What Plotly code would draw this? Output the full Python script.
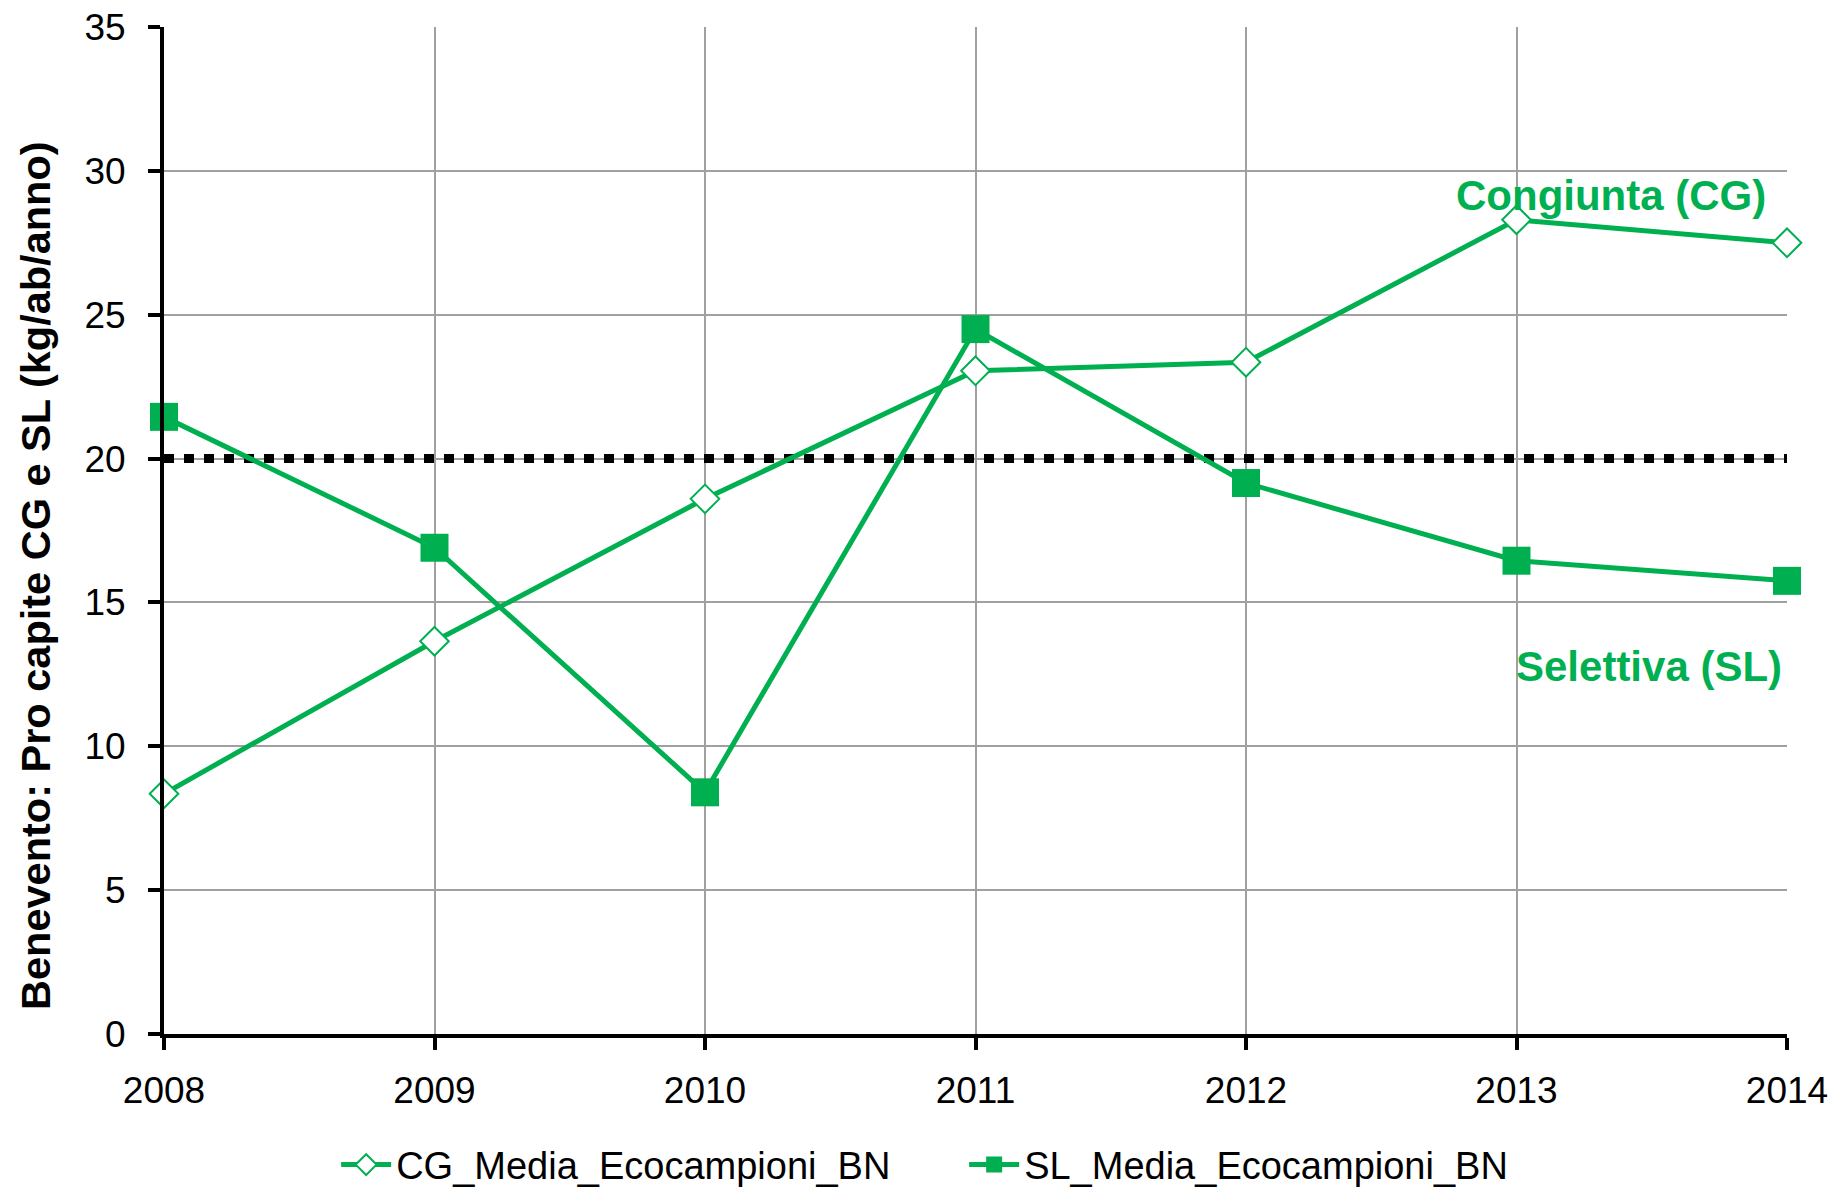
import plotly.graph_objects as go

years = [2008, 2009, 2010, 2011, 2012, 2013, 2014]
cg_values = [8.35, 13.65, 18.6, 23.05, 23.35, 28.3, 27.5]
sl_values = [21.45, 16.9, 8.4, 24.5, 19.15, 16.45, 15.75]
threshold = 20
cg_name = "CG_Media_Ecocampioni_BN"
sl_name = "SL_Media_Ecocampioni_BN"
y_title = "Benevento: Pro capite CG e SL (kg/ab/anno)"
label_cg = "Congiunta (CG)"
label_sl = "Selettiva (SL)"

GREEN = "#00B050"
FONT = "Liberation Sans Narrow, Arial Narrow, Liberation Sans, Arial, sans-serif"

fig = go.Figure()

fig.add_trace(go.Scatter(
    x=[years[0], years[-1]], y=[threshold, threshold], mode="lines",
    line=dict(color="black", width=9, dash="10px,10px"),
    showlegend=False, hoverinfo="skip", cliponaxis=False,
))

fig.add_trace(go.Scatter(
    x=years, y=cg_values, name=cg_name, mode="lines+markers",
    line=dict(color=GREEN, width=5),
    marker=dict(symbol="diamond", size=22, color="white",
                line=dict(color=GREEN, width=2)),
    cliponaxis=False,
))

fig.add_trace(go.Scatter(
    x=years, y=sl_values, name=sl_name, mode="lines+markers",
    line=dict(color=GREEN, width=5),
    marker=dict(symbol="square", size=28, color=GREEN,
                line=dict(color=GREEN, width=0)),
    cliponaxis=False,
))

fig.add_annotation(
    x=2013.35, y=29.16, xref="x", yref="y", text="<b>" + label_cg + "</b>",
    showarrow=False, font=dict(family=FONT, size=42, color=GREEN),
    xanchor="center", yanchor="middle",
)
fig.add_annotation(
    x=2013.49, y=12.79, xref="x", yref="y", text="<b>" + label_sl + "</b>",
    showarrow=False, font=dict(family=FONT, size=42, color=GREEN),
    xanchor="center", yanchor="middle",
)
fig.add_annotation(
    x=-0.0795, y=0.4558, xref="paper", yref="paper", text="<b>" + y_title + "</b>",
    textangle=-90, showarrow=False, font=dict(family=FONT, size=41.5, color="black"),
    xanchor="center", yanchor="middle",
)

fig.update_layout(
    width=1845, height=1188,
    margin=dict(l=163.5, r=58, t=27, b=154, autoexpand=False),
    paper_bgcolor="white", plot_bgcolor="white",
    font=dict(family=FONT, size=37, color="black"),
    showlegend=True,
    legend=dict(orientation="h", x=0.493, y=-0.130, xanchor="center", yanchor="middle",
                font=dict(family=FONT, size=38, color="black"), itemwidth=50,
                entrywidth=563, entrywidthmode="pixels",
                bgcolor="rgba(0,0,0,0)"),
    xaxis=dict(
        range=[years[0], years[-1]], tickmode="array", tickvals=years,
        ticktext=[str(y) for y in years],
        showgrid=True, gridcolor="#A0A0A0", gridwidth=1.5,
        showline=True, linecolor="black", linewidth=4,
        ticks="outside", ticklen=12, tickwidth=4, tickcolor="black",
        ticklabelstandoff=9, zeroline=False,
    ),
    yaxis=dict(
        range=[0, 35], dtick=5, tick0=0,
        showgrid=True, gridcolor="#A0A0A0", gridwidth=1.5,
        showline=True, linecolor="black", linewidth=4,
        ticks="outside", ticklen=12, tickwidth=4, tickcolor="black",
        ticklabelstandoff=15, zeroline=False,
    ),
)

fig.write_html(
    "out.html",
    config={"displayModeBar": False},
    post_script="document.body.style.margin='0';document.body.style.overflow='hidden';",
)
